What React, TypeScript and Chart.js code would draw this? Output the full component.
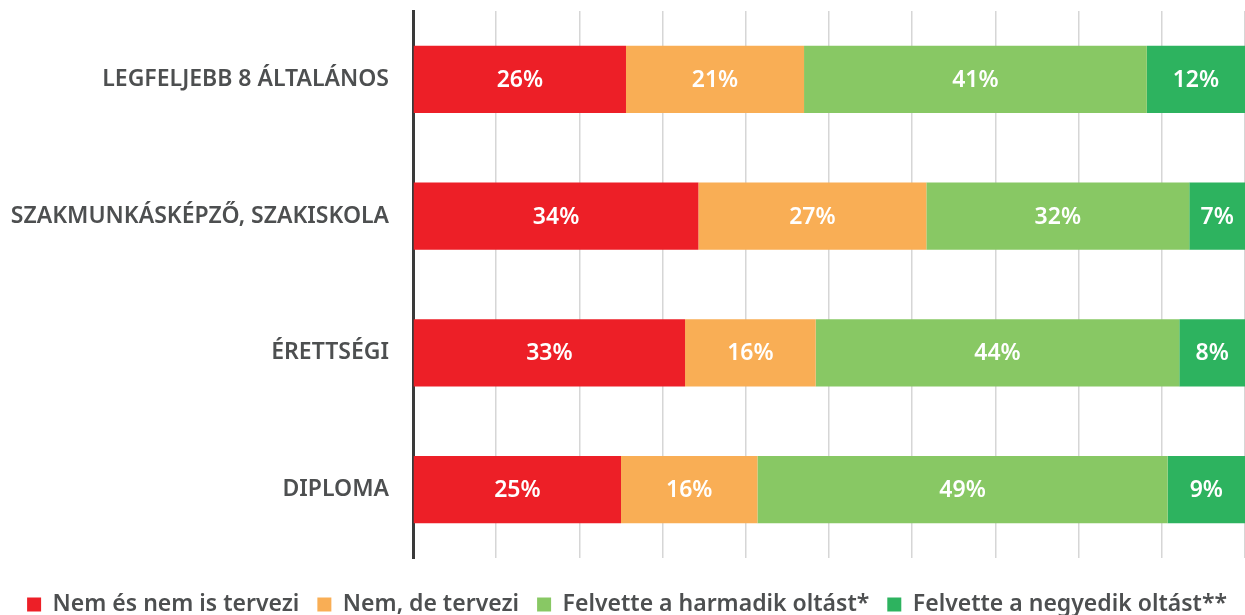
import React, { useEffect, useRef } from "react";
import { Chart, registerables } from "chart.js";

Chart.register(...registerables);

const categories = [
  "LEGFELJEBB 8 ÁLTALÁNOS",
  "SZAKMUNKÁSKÉPZŐ, SZAKISKOLA",
  "ÉRETTSÉGI",
  "DIPLOMA",
];
const nemNem = [25.6, 34.3, 32.7, 25.0];
const nemDe = [21.4, 27.4, 15.7, 16.4];
const harmadik = [41.2, 31.6, 43.7, 49.3];
const negyedik = [11.8, 6.7, 7.9, 9.3];
const seriesNames = [
  "Nem és nem is tervezi",
  "Nem, de tervezi",
  "Felvette a harmadik oltást*",
  "Felvette a negyedik oltást**",
];
const colors = ["#ED1F27", "#F9AE55", "#88C864", "#2DB35F"];

const FONT = "'Noto Sans', sans-serif";
const CANVAS_H = 626;

const labelPlugin = {
  id: "barLabels",
  afterDatasetsDraw(chart: any) {
    const ctx = chart.ctx;
    ctx.save();
    ctx.fillStyle = "#ffffff";
    ctx.font = `600 23px ${FONT}`;
    ctx.textAlign = "center";
    ctx.textBaseline = "middle";
    chart.data.datasets.forEach((ds: any, di: number) => {
      const meta = chart.getDatasetMeta(di);
      meta.data.forEach((bar: any, i: number) => {
        const v = ds.data[i];
        const cx = (bar.x + bar.base) / 2;
        ctx.fillText(`${Math.round(v)}%`, cx, bar.y + 1);
      });
    });
    ctx.restore();
  },
};

export default function App() {
  const ref = useRef<HTMLCanvasElement>(null);
  useEffect(() => {
    document.body.style.margin = "0";
    const series = [nemNem, nemDe, harmadik, negyedik];
    const chart = new Chart(ref.current!, {
      type: "bar",
      data: {
        labels: categories,
        datasets: series.map((d, i) => ({
          label: seriesNames[i],
          data: d,
          backgroundColor: colors[i],
          borderWidth: 0,
          barPercentage: 0.49,
          categoryPercentage: 1,
        })),
      },
      options: {
        indexAxis: "y",
        animation: false,
        responsive: false,
        maintainAspectRatio: false,
        layout: { padding: { top: 11, right: 0, left: 0, bottom: 0 } },
        scales: {
          x: {
            stacked: true,
            min: 0,
            max: 100,
            ticks: { display: false, stepSize: 10 },
            border: { display: false },
            grid: { color: "#d6d6d6", lineWidth: 1.5, drawTicks: false },
            afterFit(scale: any) {
              scale.height = 17;
              scale.paddingLeft = 0;
              scale.paddingRight = 0;
            },
          },
          y: {
            stacked: true,
            ticks: {
              color: "#4d4f50",
              font: { family: FONT, size: 23, weight: "600" },
              padding: 24,
            },
            border: { display: true, color: "#3a3a3a", width: 3 },
            grid: { display: false, drawTicks: false },
            afterFit(scale: any) {
              scale.width = 413;
              scale.paddingTop = 0;
              scale.paddingBottom = 0;
            },
          },
        },
        plugins: {
          legend: {
            position: "bottom",
            align: "end",
            labels: {
              color: "#4d4f50",
              font: { family: FONT, size: 23, weight: "600" },
              boxWidth: 14,
              boxHeight: 14,
              padding: 18,
            },
          },
          tooltip: { enabled: false },
        },
      },
      plugins: [labelPlugin],
    });
    return () => chart.destroy();
  }, []);
  return (
    <div style={{ width: 1245, height: 615, overflow: "hidden" }}>
      <canvas ref={ref} width={1245} height={CANVAS_H} style={{ display: "block" }} />
    </div>
  );
}
